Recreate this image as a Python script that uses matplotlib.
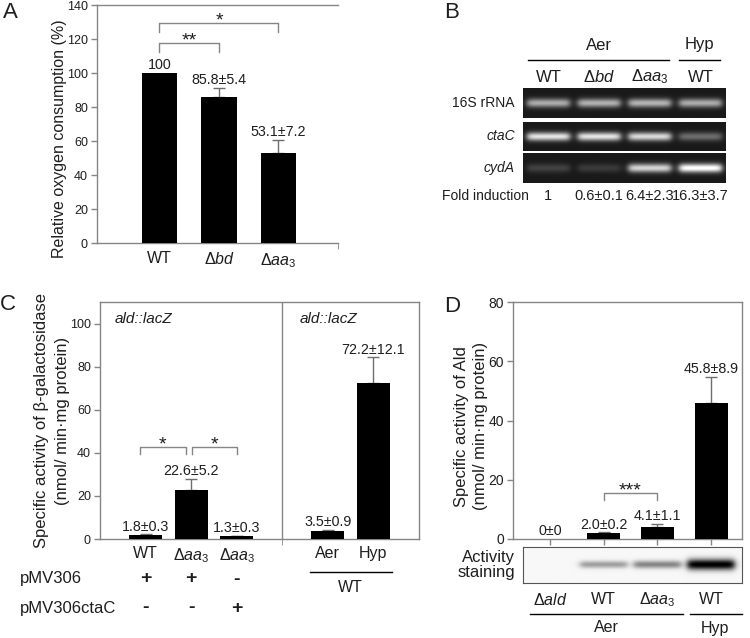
import matplotlib.pyplot as plt
import numpy as np
from matplotlib.transforms import blended_transform_factory

plt.rcParams['font.family'] = ['Liberation Sans', 'DejaVu Sans']
plt.rcParams['mathtext.fontset'] = 'custom'
plt.rcParams['mathtext.rm'] = 'Liberation Sans'
plt.rcParams['mathtext.it'] = 'Liberation Sans:italic'
plt.rcParams['mathtext.bf'] = 'Liberation Sans:bold'

W, H = 750, 638
GRAY = '#858585'
ERR = '#6e6e6e'
TXT = '#1e1e1e'

WT = 'WT'
D_BD = r'$\Delta\mathit{bd}$'
D_AA3 = r'$\Delta\mathit{aa}_{\mathit{3}}$'
D_ALD = r'$\Delta\mathit{ald}$'

# Panel A - relative oxygen consumption
a_strains = [WT, D_BD, D_AA3]
a_mean = [100, 85.8, 53.1]
a_sd = [0, 5.4, 7.2]
a_text = ['100', '85.8±5.4', '53.1±7.2']

# Panel B - RT-PCR gel (band brightness per lane)
b_lanes = [WT, D_BD, D_AA3, WT]
b_genes = ['16S rRNA', 'ctaC', 'cydA']
b_16s = [0.58, 0.60, 0.61, 0.58]
b_ctac = [0.80, 0.80, 0.76, 0.33]
b_cyda = [0.16, 0.13, 0.74, 0.92]
b_fold = ['1', '0.6±0.1', '6.4±2.3', '16.3±3.7']

# Panel C - beta-galactosidase activity
c_strains = [WT, D_AA3, D_AA3, 'Aer', 'Hyp']
c_mean = [1.8, 22.6, 1.3, 3.5, 72.2]
c_sd = [0.3, 5.2, 0.3, 0.9, 12.1]
c_text = ['1.8±0.3', '22.6±5.2', '1.3±0.3', '3.5±0.9', '72.2±12.1']
c_pmv306 = ['+', '+', '-']
c_pmv306ctac = ['-', '-', '+']

# Panel D - Ald activity
d_strains = [D_ALD, WT, D_AA3, WT]
d_mean = [0, 2.0, 4.1, 45.8]
d_sd = [0, 0.2, 1.1, 8.9]
d_text = ['0±0', '2.0±0.2', '4.1±1.1', '45.8±8.9']
d_stain = [0.0, 0.35, 0.45, 1.0]

fig = plt.figure(figsize=(7.5, 6.38), dpi=100)


def px_axes(x0, y0, x1, y1):
    return fig.add_axes([x0 / W, 1 - y1 / H, (x1 - x0) / W, (y1 - y0) / H])


def style_axes(ax, top=True, right=True):
    for s in ax.spines.values():
        s.set_color(GRAY)
        s.set_linewidth(1)
    ax.spines['top'].set_visible(top)
    ax.spines['right'].set_visible(right)
    ax.tick_params(colors=GRAY, labelcolor=TXT, direction='out', length=4, width=1)
    ax.tick_params(axis='y', pad=2.5)


def draw_bars(ax, pos, mean, sd, text, width, dy):
    pos = np.array(pos, dtype=float)
    mean = np.array(mean, dtype=float)
    sd = np.array(sd, dtype=float)
    ax.bar(pos, mean, width, color='black', zorder=3)
    has = sd > 0
    ax.errorbar(pos[has], mean[has], yerr=[np.zeros(has.sum()), sd[has]], fmt='none',
                ecolor=ERR, elinewidth=1, capsize=4, capthick=1, zorder=2)
    for x, m, s, t in zip(pos, mean, sd, text):
        ax.annotate(t, (x, m + s), xytext=(0, dy), textcoords='offset points',
                    ha='center', va='bottom', fontsize=10.3, color=TXT)


def bracket(ax, x0, x1, y, leg, stars):
    ax.plot([x0, x0, x1, x1], [y - leg, y, y, y - leg], color=GRAY, lw=1)
    ax.annotate(stars, ((x0 + x1) / 2, y), xytext=(0, -1.5), textcoords='offset points',
                ha='center', va='baseline', fontsize=14, color=TXT)


def band_image(ax, levels, xlim, bg, sign, hw=0.42):
    x = np.linspace(xlim[0], xlim[1], 500)
    y = np.linspace(0, 1, 60)
    img = np.full((y.size, x.size), bg)
    for i, lev in enumerate(levels):
        c = i + 0.5 if sign > 0 else i
        across = 1 / (1 + np.exp((np.abs(x - c) - hw) / 0.035))
        sig = 0.15 if sign > 0 else 0.07 + 0.08 * lev
        down = np.exp(-((y - 0.5) / sig) ** 2)
        img += sign * lev * np.outer(down, across)
    ax.imshow(img, cmap='gray', vmin=0, vmax=1, extent=(xlim[0], xlim[1], 1, 0),
              aspect='auto', interpolation='bilinear')
    ax.set_xlim(xlim)
    ax.set_xticks([])
    ax.set_yticks([])


# overlay in pixel coordinates for labels outside the plot areas
ann = px_axes(0, 0, W, H)
ann.set_xlim(0, W)
ann.set_ylim(H, 0)
ann.axis('off')
ann.set_zorder(10)

# ---- A ----
axA = px_axes(97, 5, 338, 243)
style_axes(axA, top=True, right=False)
draw_bars(axA, range(3), a_mean, a_sd, a_text, 0.6, 1)
axA.set_xlim(-1.05, 3.0)
axA.set_ylim(0, 140)
axA.set_yticks(range(0, 141, 20))
axA.tick_params(axis='y', labelsize=9)
axA.set_xticks(range(3), a_strains, fontsize=11.5)
axA.tick_params(axis='x', length=0, pad=6)
axA.set_xticks([3.0], minor=True)
axA.tick_params(axis='x', which='minor', length=4, color=GRAY)
axA.set_ylabel('Relative oxygen consumption (%)', fontsize=11.5, color=TXT)
axA.yaxis.set_label_coords(-0.125, 0.44)
bracket(axA, 0, 1, 117.6, 5.2, '**')
bracket(axA, 0, 2, 129.4, 5.4, '*')
ann.text(10, 13, 'A', fontsize=16, ha='center', va='center', color=TXT)

# ---- B ----
gel_boxes = [(523, 88, 726, 118), (523, 122, 726, 151), (523, 153, 726, 183)]
gels = []
for box, levels in zip(gel_boxes, [b_16s, b_ctac, b_cyda]):
    g = px_axes(*box)
    band_image(g, levels, (0, len(levels)), 0.1, 1)
    for s in g.spines.values():
        s.set_visible(False)
    gels.append(g)
tB = blended_transform_factory(gels[0].transData, ann.transData)
for i, s in enumerate(b_lanes):
    ann.text(i + 0.5, 77, s, transform=tB, ha='center', va='center', fontsize=12, color=TXT)
for i, s in enumerate(b_fold):
    ann.text(i + 0.5, 196, s, transform=tB, ha='center', va='center', fontsize=10.5, color=TXT)
ann.text(1.5, 45, 'Aer', transform=tB, ha='center', va='center', fontsize=12, color=TXT)
ann.text(3.48, 45, 'Hyp', transform=tB, ha='center', va='center', fontsize=12, color=TXT)
ann.plot([0.1, 2.88], [60, 60], transform=tB, color='black', lw=1, clip_on=False)
ann.plot([3.07, 3.88], [60, 60], transform=tB, color='black', lw=1, clip_on=False)
for box, gene in zip(gel_boxes, b_genes):
    style = 'normal' if gene.startswith('16S') else 'italic'
    ann.text(515, (box[1] + box[3]) / 2, gene, ha='right', va='center', fontsize=10,
             fontstyle=style, color=TXT)
ann.text(442, 196, 'Fold induction', ha='left', va='center', fontsize=10, color=TXT)
ann.text(452, 13, 'B', fontsize=16, ha='center', va='center', color=TXT)

# ---- C ----
axC = px_axes(100, 302, 419, 539)
style_axes(axC)
c_pos = [0, 1, 2, 4, 5]
draw_bars(axC, c_pos, c_mean, c_sd, c_text, 0.72, 0.5)
axC.axvline(3, color=GRAY, lw=1)
axC.set_xlim(-1, 6)
axC.set_ylim(0, 110)
axC.set_yticks(range(0, 101, 20))
axC.tick_params(axis='y', labelsize=9)
axC.set_xticks(c_pos, c_strains, fontsize=11.5)
axC.tick_params(axis='x', length=0, pad=5)
axC.set_xticks([3], minor=True)
axC.tick_params(axis='x', which='minor', length=4, color=GRAY)
axC.set_ylabel('Specific activity of β-galactosidase\n(nmol/ min·mg protein)',
               fontsize=12, linespacing=1.45, color=TXT)
axC.yaxis.set_label_coords(-0.095, 0.5)
axC.text(0.047, 0.93, 'ald::lacZ', transform=axC.transAxes, ha='left', va='center',
         fontsize=11, fontstyle='italic', color=TXT)
axC.text(0.627, 0.93, 'ald::lacZ', transform=axC.transAxes, ha='left', va='center',
         fontsize=11, fontstyle='italic', color=TXT)
bracket(axC, -0.12, 0.88, 42.6, 3.3, '*')
bracket(axC, 1.02, 2.0, 42.6, 3.3, '*')
tC = blended_transform_factory(axC.transData, ann.transData)
ann.text(20, 579, 'pMV306', ha='left', va='center', fontsize=12, color=TXT)
ann.text(20, 608, 'pMV306ctaC', ha='left', va='center', fontsize=12, color=TXT)
for x, a, b in zip(c_pos[:3], c_pmv306, c_pmv306ctac):
    ann.text(x, 579, a, transform=tC, ha='center', va='center', fontsize=14,
             fontweight='bold', color=TXT)
    ann.text(x, 608, b, transform=tC, ha='center', va='center', fontsize=14,
             fontweight='bold', color=TXT)
ann.plot([3.6, 5.41], [572, 572], transform=tC, color='black', lw=1, clip_on=False)
ann.text(4.5, 587, 'WT', transform=tC, ha='center', va='center', fontsize=11.5, color=TXT)
ann.text(8, 304, 'C', fontsize=16, ha='center', va='center', color=TXT)

# ---- D ----
axD = px_axes(513, 302, 742, 539)
style_axes(axD)
draw_bars(axD, range(4), d_mean, d_sd, d_text, 0.61, 0.5)
d_xlim = (-0.69, 3.575)
axD.set_xlim(d_xlim)
axD.set_ylim(0, 80)
axD.set_yticks(range(0, 81, 20))
axD.tick_params(axis='y', labelsize=10)
axD.set_xticks(range(4), [''] * 4)
axD.set_ylabel('Specific activity of Ald\n(nmol/ min·mg protein)',
               fontsize=12, linespacing=1.3, color=TXT)
axD.yaxis.set_label_coords(-0.11, 0.475)
bracket(axD, 1, 2, 15.5, 2.3, '***')

axS = px_axes(523, 547, 742, 583)
band_image(axS, d_stain, (-0.503, 3.575), 0.97, -1, hw=0.44)
for s in axS.spines.values():
    s.set_color('#555555')
ann.text(515, 565, 'Activity\nstaining', ha='right', va='center', fontsize=12,
         linespacing=1.05, color=TXT)

tD = blended_transform_factory(axD.transData, ann.transData)
for i, s in enumerate(d_strains):
    ann.text(i, 600, s, transform=tD, ha='center', va='center', fontsize=11.5, color=TXT)
ann.plot([-0.37, 2.48], [614, 614], transform=tD, color='black', lw=1, clip_on=False)
ann.plot([2.61, 3.575], [614, 614], transform=tD, color='black', lw=1, clip_on=False)
ann.text(1.05, 628, 'Aer', transform=tD, ha='center', va='center', fontsize=11.5, color=TXT)
ann.text(3.07, 628, 'Hyp', transform=tD, ha='center', va='center', fontsize=11.5, color=TXT)
ann.text(452, 306, 'D', fontsize=16, ha='center', va='center', color=TXT)

fig.savefig('out.png', dpi=100)
